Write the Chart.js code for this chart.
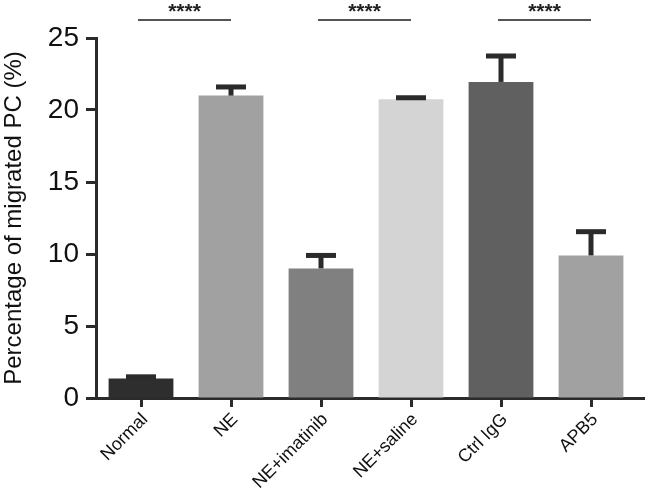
<!DOCTYPE html>
<html>
<head>
<meta charset="utf-8">
<script src="https://cdn.jsdelivr.net/npm/chart.js@4"></script>
<style>
  body { margin: 0; background: #fff; }
</style>
</head>
<body>
<canvas id="migChart" width="647" height="493"></canvas>
<script>
const categories = ["Normal", "NE", "NE+imatinib", "NE+saline", "Ctrl IgG", "APB5"];
const means = [1.35, 21.0, 9.0, 20.75, 21.95, 9.9];
const errors = [0.12, 0.6, 0.9, 0.1, 1.8, 1.65];
const barColors = ["#2e2e2e", "#a1a1a1", "#808080", "#d4d4d4", "#606060", "#a1a1a1"];
const yTicks = [0, 5, 10, 15, 20, 25];
// comparisons drawn above the bars
const sigPairs = [[0, 1], [2, 3], [4, 5]];
const sigLabels = ["****", "****", "****"];

const dark = "#2b2b2b";
const fontFamily = "'Liberation Sans', Arial, sans-serif";

const errorBars = {
  id: "errorBars",
  afterDatasetsDraw(chart) {
    const c = chart.ctx;
    const y = chart.scales.y;
    const meta = chart.getDatasetMeta(0);
    c.save();
    c.fillStyle = dark;
    meta.data.forEach((bar, i) => {
      const top = y.getPixelForValue(means[i] + errors[i]);
      const base = y.getPixelForValue(means[i]);
      c.fillRect(bar.x - 2.5, top, 5, base - top);
      c.fillRect(bar.x - 15, top - 2.5, 30, 5);
    });
    c.restore();
  }
};

const extras = {
  id: "extras",
  afterDraw(chart) {
    const c = chart.ctx;
    const x = chart.scales.x;
    const area = chart.chartArea;
    c.save();
    // x axis line runs a little past the last category
    c.strokeStyle = dark;
    c.lineWidth = 3;
    c.beginPath();
    c.moveTo(area.right - 2, area.bottom + 0.5);
    c.lineTo(645, area.bottom + 0.5);
    c.stroke();
    // significance lines
    c.strokeStyle = "#555";
    c.lineWidth = 2;
    c.fillStyle = "#222";
    c.font = "bold 21px " + fontFamily;
    c.textAlign = "center";
    c.textBaseline = "alphabetic";
    sigPairs.forEach((p, k) => {
      const x1 = x.getPixelForValue(p[0]) - 3;
      const x2 = x.getPixelForValue(p[1]);
      c.beginPath();
      c.moveTo(x1, 20);
      c.lineTo(x2, 20);
      c.stroke();
      c.fillText(sigLabels[k], (x1 + x2) / 2, 18);
    });
    c.restore();
  }
};

const ctx = document.getElementById("migChart").getContext("2d");
new Chart(ctx, {
  type: "bar",
  data: {
    labels: categories,
    datasets: [{
      data: means,
      backgroundColor: barColors,
      borderWidth: 0,
      barPercentage: 0.72,
      categoryPercentage: 1.0
    }]
  },
  options: {
    responsive: false,
    animation: false,
    layout: { padding: { top: 38, right: 11 } },
    plugins: {
      legend: { display: false },
      tooltip: { enabled: false }
    },
    scales: {
      x: {
        grid: { drawOnChartArea: false, drawTicks: true, tickLength: 9, tickWidth: 3, tickColor: dark, offset: false },
        border: { display: true, color: dark, width: 3 },
        ticks: {
          color: "#111",
          font: { family: fontFamily, size: 18 },
          minRotation: 45,
          maxRotation: 45,
          labelOffset: 4,
          padding: 2
        },
        afterFit(scale) { scale.height = 95; }
      },
      y: {
        min: 0,
        max: 25,
        afterBuildTicks(scale) { scale.ticks = yTicks.map(v => ({ value: v })); },
        grid: { drawOnChartArea: false, drawTicks: true, tickLength: 10, tickWidth: 3, tickColor: dark },
        border: { display: true, color: dark, width: 3 },
        ticks: {
          color: "#111",
          font: { family: fontFamily, size: 28 },
          padding: 7
        },
        title: {
          display: true,
          text: "Percentage of migrated PC (%)",
          color: "#111",
          font: { family: fontFamily, size: 24 },
          padding: 0
        },
        afterFit(scale) { scale.width = 96; }
      }
    }
  },
  plugins: [errorBars, extras]
});
</script>
</body>
</html>
